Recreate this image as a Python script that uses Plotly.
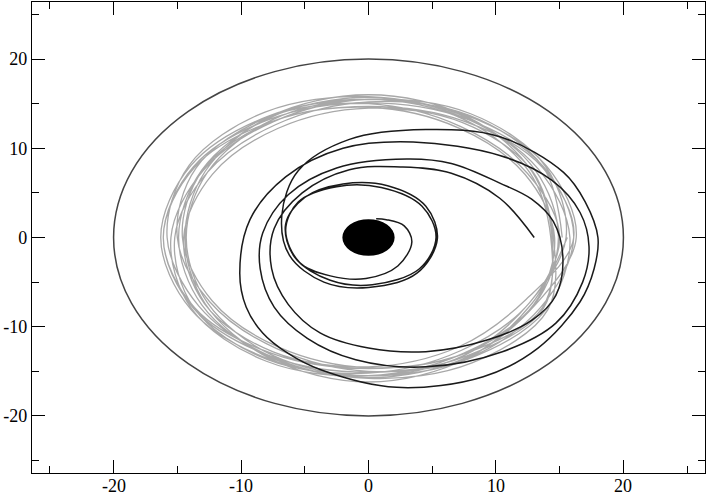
import plotly.graph_objects as go

# stable orbit (gray), traced loop by loop
gray_x = [
    15.2, 13.69, 7.91, 0.0, -7.30, -12.64, -15.2, -13.69, -7.91, 0.0, 7.30, 12.64,
    15.0, 12.46, 7.20, 0.0, -7.81, -13.52, -15.0, -12.46, -7.20, 0.0, 7.81, 13.52,
    16.1, 13.73, 7.68, 0.0, -7.68, -13.73, -16.1, -13.73, -7.68, 0.0, 7.68, 13.73,
    14.3, 12.64, 7.60, 0.0, -7.60, -12.64, -14.3, -12.64, -7.60, 0.0, 7.60, 12.64,
    15.5, 13.87, 8.01, 0.0, -7.49, -12.97, -15.5, -13.87, -8.01, 0.0, 7.49, 12.97,
    14.6, 12.27, 7.09, 0.0, -7.52, -13.02, -14.6, -12.27, -7.09, 0.0, 7.52, 13.02,
    14.9, 13.08, 7.75, 0.0, -7.75, -13.08, -14.9, -13.08, -7.75, 0.0, 7.75, 13.08,
    16.3, 13.94, 7.85, 0.0, -7.85, -13.94, -16.3, -13.94, -7.85, 0.0, 7.85, 13.94,
    15.8, 13.31, 7.69, 0.0, -8.12, -14.06, -15.8, -13.31, -7.69, 0.0, 8.12, 14.06,
    14.5, 12.86, 7.43, 0.0, -7.08, -12.25, -14.5, -12.86, -7.43, 0.0, 7.08, 12.25,
    16.1, 13.64, 7.53, 0.0, -7.53, -13.64, -16.1, -13.64, -7.53, 0.0, 7.53, 13.64,
    14.4, 12.82, 7.80, 0.0, -7.80, -12.82, -14.4, -12.82, -7.80, 0.0, 7.80, 12.82, 15.6,
]
gray_y = [
    0.0, 7.91, 13.69, 15.2, 12.64, 7.30, 0.0, -7.91, -13.69, -15.2, -12.64, -7.30,
    0.0, 7.20, 12.46, 15.0, 13.52, 7.81, 0.0, -7.20, -12.46, -15.0, -13.52, -7.81,
    0.0, 7.93, 13.29, 15.1, 13.29, 7.93, 0.0, -7.93, -13.29, -15.1, -13.29, -7.93,
    0.0, 7.30, 13.16, 15.5, 13.16, 7.30, 0.0, -7.30, -13.16, -15.5, -13.16, -7.30,
    0.0, 8.01, 13.87, 15.5, 12.97, 7.49, 0.0, -8.01, -13.87, -15.5, -12.97, -7.49,
    0.0, 7.09, 12.27, 14.6, 13.02, 7.52, 0.0, -7.09, -12.27, -14.6, -13.02, -7.52,
    0.0, 7.55, 13.42, 15.7, 13.42, 7.55, 0.0, -7.55, -13.42, -15.7, -13.42, -7.55,
    0.0, 8.05, 13.60, 15.5, 13.60, 8.05, 0.0, -8.05, -13.60, -15.5, -13.60, -8.05,
    0.0, 7.69, 13.31, 15.8, 14.06, 8.12, 0.0, -7.69, -13.31, -15.8, -14.06, -8.12,
    0.0, 7.43, 12.86, 14.5, 12.25, 7.08, 0.0, -7.43, -12.86, -14.5, -12.25, -7.08,
    0.0, 7.88, 13.03, 14.7, 13.03, 7.88, 0.0, -7.88, -13.03, -14.7, -13.03, -7.88,
    0.0, 7.40, 13.51, 16.0, 13.51, 7.40, 0.0, -7.40, -13.51, -16.2, -13.51, -7.40, 0.0,
]

# plunging orbit (black), from (13, 0) into the hole
black_x = [
    13.0, 10.3, 6.5, 2.7, -1.5, -5.2, -7.4, -7.6, -6.3, -3.8, 0.0, 4.5, 9.3, 12.8,
    14.7, 15.25, 14.5, 12.8, 10.3, 6.5, 3.0, -2.5, -6.3, -8.3, -8.5, -7.4, -4.8, -1.0, 4.5,
    10.5, 14.7, 16.8, 17.3, 16.6, 14.4, 10.3, 3.5, -2.0, -6.5, -9.3, -10.1, -9.6, -8.3, -6.3,
    -3.8, 2.2, 9.0, 13.3, 16.6, 17.7, 18.0, 17.0, 15.3, 10.3, 4.5, -1.5, -5.5, -6.8, -6.2,
    -3.5, 0.0, 3.8, 5.4, 4.5, 1.5, -2.0, -5.0, -6.5, -5.8, -3.0, 0.3, 4.0, 5.3,
    4.2, 1.0, -2.5, -5.5, -6.5, -5.4, -3.0, -0.2, 2.3, 3.4, 2.8, 1.4, 0.6,
]
black_y = [
    0.0, 4.4, 7.2, 7.9, 7.6, 5.0, 1.0, -3.5, -7.5, -10.7, -12.4, -12.8, -11.5, -9.3,
    -6.5, -2.2, 1.8, 4.3, 6.1, 8.3, 8.8, 7.8, 4.8, 0.5, -3.5, -7.8, -11.3, -13.7, -14.5,
    -12.8, -9.6, -5.0, -1.0, 2.8, 6.4, 9.2, 10.7, 10.0, 6.8, 2.0, -4.0, -7.8, -10.7, -13.0,
    -14.8, -16.8, -15.6, -12.4, -7.2, -3.5, 0.0, 4.0, 7.3, 11.3, 12.1, 11.0, 7.5, 2.5, -2.0,
    -5.0, -5.6, -4.0, -0.2, 3.5, 5.8, 6.0, 4.5, 1.5, -2.2, -4.8, -5.3, -3.5, 0.0,
    3.5, 5.6, 5.7, 4.0, 0.8, -2.8, -4.3, -4.6, -3.2, -0.5, 1.3, 2.0, 2.1,
]

outer_radius = 20.0
hole_radius = 2.05

tick_vals = [-20, -10, 0, 10, 20]
tick_text = ['-20', '-10', '0', '10', '20']
minor_vals = [-25, -15, -5, 5, 15, 25]

fig = go.Figure()

fig.add_trace(go.Scatter(
    x=gray_x, y=gray_y, mode='lines',
    line=dict(color='#a8a8a8', width=1.3, shape='spline', smoothing=1.0),
    hoverinfo='skip'
))
fig.add_trace(go.Scatter(
    x=black_x, y=black_y, mode='lines',
    line=dict(color='#1a1a1a', width=1.5, shape='spline', smoothing=1.0),
    hoverinfo='skip'
))

fig.add_shape(type='circle', xref='x', yref='y',
              x0=-outer_radius, x1=outer_radius, y0=-outer_radius, y1=outer_radius,
              line=dict(color='#444444', width=1.5), layer='below')
fig.add_shape(type='circle', xref='x', yref='y',
              x0=-hole_radius, x1=hole_radius, y0=-hole_radius, y1=hole_radius,
              line=dict(color='black', width=0), fillcolor='black', layer='above')

axis_style = dict(
    range=[-26.4, 26.4], showgrid=False, zeroline=False, automargin=False,
    showline=True, linecolor='black', linewidth=1.2, mirror='ticks',
    ticks='inside', ticklen=13, tickwidth=1.2, tickcolor='black',
    tickmode='array', tickvals=tick_vals, ticktext=tick_text,
    minor=dict(tickmode='array', tickvals=minor_vals, ticks='inside',
               ticklen=7, tickwidth=1.2, tickcolor='black'),
)

fig.update_xaxes(**axis_style, showticklabels=False)
fig.update_yaxes(**axis_style)

# x tick labels placed just under the axis, as in the original
for v, t in zip(tick_vals, tick_text):
    fig.add_annotation(x=v, xref='x', y=0, yref='paper', text=t,
                       showarrow=False, yanchor='top', yshift=-1,
                       font=dict(family='Liberation Serif', size=18, color='black'))

fig.update_layout(
    width=708, height=495,
    margin=dict(l=32, r=3, t=2, b=22),
    paper_bgcolor='white', plot_bgcolor='white',
    showlegend=False,
    font=dict(family='Liberation Serif', size=18, color='black'),
)

# the page's default body margin would shift the figure by 8px
fig.write_html("out.html", config={'displayModeBar': False},
               post_script="document.body.style.margin='0px';")
